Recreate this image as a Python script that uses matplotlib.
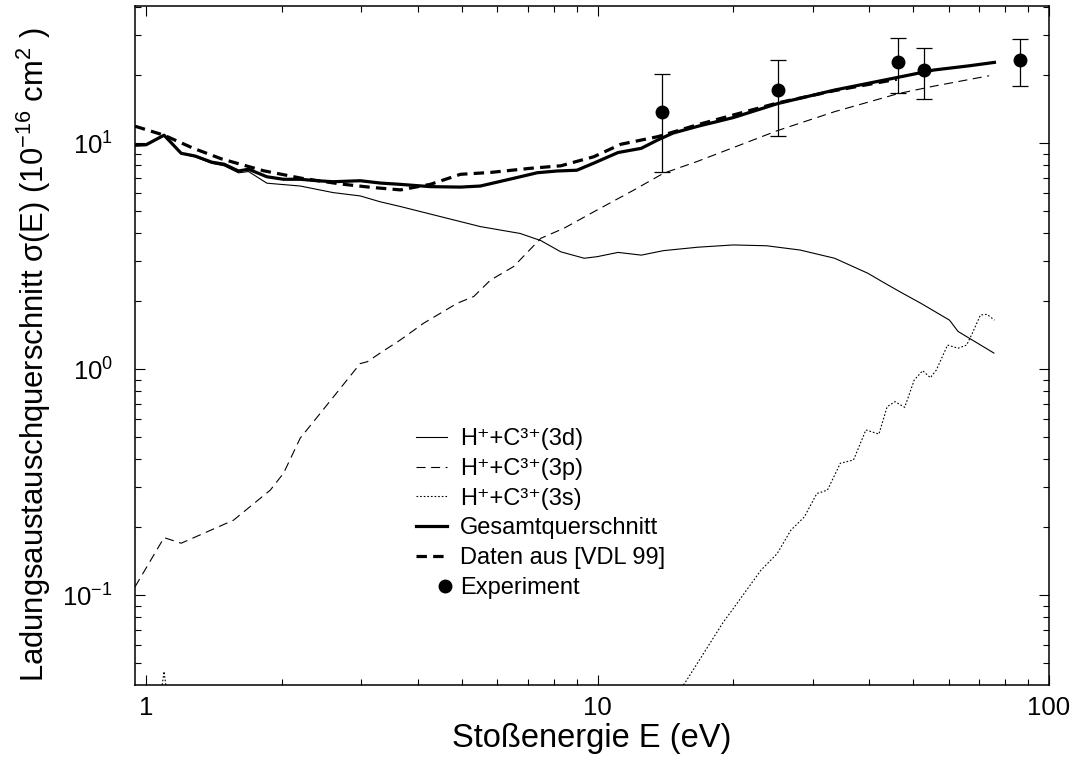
import matplotlib
matplotlib.use("Agg")
import matplotlib.pyplot as plt
from matplotlib.ticker import FixedLocator, LogLocator, FuncFormatter, NullFormatter
from matplotlib.legend_handler import HandlerLine2DCompound

plt.rcParams['font.family'] = ['Liberation Sans', 'DejaVu Sans']
plt.rcParams['mathtext.fontset'] = 'custom'
plt.rcParams['mathtext.rm'] = 'Liberation Sans'
plt.rcParams['mathtext.it'] = 'Liberation Sans:italic'
plt.rcParams['mathtext.bf'] = 'Liberation Sans:bold'
plt.rcParams['lines.scale_dashes'] = False

# H+ + C3+ charge exchange, partial cross sections (1e-16 cm^2) vs collision energy (eV)
e_3d = [0.945, 1.0, 1.096, 1.196, 1.285, 1.398, 1.489, 1.602, 1.686, 1.852, 2.195,
        2.597, 2.98, 3.30, 3.66, 4.64, 5.50, 6.74, 7.49, 8.29, 9.34, 9.98, 11.1,
        12.5, 14.0, 16.7, 20.0, 23.7, 28.1, 33.5, 39.7, 43.2, 47.0, 52.0, 60.2,
        62.9, 75.5]
sig_3d = [9.8, 9.85, 10.8, 9.0, 8.7, 8.15, 7.95, 7.4, 7.5, 6.66, 6.47,
          6.05, 5.85, 5.51, 5.25, 4.66, 4.28, 3.99, 3.71, 3.31, 3.10, 3.15, 3.29,
          3.20, 3.35, 3.47, 3.55, 3.52, 3.37, 3.10, 2.66, 2.41, 2.19, 1.96, 1.65,
          1.47, 1.18]

e_3p = [0.945, 1.096, 1.196, 1.562, 1.884, 2.016, 2.195, 2.43, 2.98, 3.09, 3.30,
        3.66, 4.12, 4.89, 5.32, 5.79, 6.52, 7.49, 8.43, 9.98, 12.05, 14.0, 16.6,
        25.1, 33.5, 46.4, 55.6, 73.7]
sig_3p = [0.109, 0.180, 0.170, 0.215, 0.292, 0.347, 0.496, 0.638, 1.06, 1.08, 1.18,
          1.35, 1.60, 1.96, 2.10, 2.48, 2.85, 3.80, 4.21, 5.07, 6.22, 7.37, 8.30,
          11.4, 13.8, 16.6, 17.9, 19.9]

e_3s = [1.05, 1.096, 1.14, 14.5, 15.6, 19.0, 20.0, 23.0, 25.0, 26.8, 28.7, 30.6,
        32.3, 34.5, 36.9, 39.3, 42.0, 43.8, 45.6, 47.9, 50.3, 52.5, 54.6, 56.3,
        59.6, 62.9, 65.7, 67.6, 70.5, 72.9, 75.7]
sig_3s = [0.025, 0.046, 0.025, 0.035, 0.0408, 0.0762, 0.0876, 0.129, 0.153, 0.194,
          0.222, 0.282, 0.292, 0.384, 0.397, 0.539, 0.517, 0.683, 0.719, 0.679,
          0.897, 0.986, 0.918, 0.993, 1.28, 1.24, 1.28, 1.44, 1.74, 1.75, 1.65]

e_total = [0.945, 1.0, 1.096, 1.196, 1.285, 1.398, 1.489, 1.602, 1.686, 1.852,
           2.016, 2.195, 2.39, 2.597, 2.98, 3.30, 3.66, 4.26, 4.97, 5.50, 6.52,
           7.36, 8.13, 9.0, 9.81, 11.1, 12.5, 13.6, 14.7, 16.7, 20.0, 25.1, 33.5,
           46.4, 55.6, 66.3, 75.7]
sig_total = [9.8, 9.85, 10.86, 9.03, 8.78, 8.25, 8.08, 7.54, 7.68, 7.11,
             6.93, 6.93, 6.83, 6.76, 6.83, 6.67, 6.58, 6.43, 6.40, 6.47, 7.0,
             7.41, 7.54, 7.6, 8.17, 9.1, 9.5, 10.35, 11.1, 11.9, 13.0, 15.0, 17.2,
             19.6, 21.1, 22.0, 22.8]

# reference data [VDL 99]
e_vdl = [0.945, 1.096, 1.273, 1.472, 1.82, 2.213, 2.69, 3.16, 3.66, 4.26, 4.97,
         5.79, 7.1, 8.29, 9.81, 11.26, 13.6, 16.7, 25.1, 33.5, 46.0]
sig_vdl = [11.9, 10.86, 9.5, 8.52, 7.56, 7.0, 6.61, 6.38, 6.22, 6.58, 7.29,
           7.43, 7.75, 7.95, 8.72, 9.9, 10.7, 12.1, 15.1, 17.1, 19.2]

# measurements with error bars
e_exp = [13.9, 25.1, 46.4, 52.8, 86.4]
sig_exp = [13.8, 17.2, 23.0, 21.0, 23.4]
err_lo = [7.44, 10.8, 16.7, 15.7, 17.9]
err_hi = [20.2, 23.4, 29.3, 26.5, 28.8]


class EndMarkerHandler(HandlerLine2DCompound):
    """Put the single legend marker near the right end of the handle."""
    def get_xdata(self, legend, xdescent, ydescent, width, height, fontsize):
        xdata, _ = super().get_xdata(legend, xdescent, ydescent, width, height, fontsize)
        return xdata, [-xdescent + width * 0.95]


fig = plt.figure(figsize=(10.75, 7.59), dpi=100)
ax = fig.add_axes([135 / 1075, 1 - 685 / 759, (1049 - 135) / 1075, (685 - 6) / 759])

thin = 0.8
ax.plot(e_3d, sig_3d, color='black', lw=thin, label='H⁺+C³⁺(3d)')
ax.plot(e_3p, sig_3p, color='black', lw=thin, dashes=(6.5, 4.0),
        label='H⁺+C³⁺(3p)')
ax.plot(e_3s, sig_3s, color='black', lw=thin, dashes=(1.2, 1.4),
        label='H⁺+C³⁺(3s)')
ax.plot(e_total, sig_total, color='black', lw=2.3, label='Gesamtquerschnitt')
ax.plot(e_vdl, sig_vdl, color='black', lw=2.3, dashes=(7.5, 4.5),
        label='Daten aus [VDL 99]')

yerr = [[s - lo for s, lo in zip(sig_exp, err_lo)],
        [hi - s for s, hi in zip(sig_exp, err_hi)]]
ax.errorbar(e_exp, sig_exp, yerr=yerr, fmt='none', ecolor='black',
            elinewidth=0.9, capsize=5.5, capthick=0.9)
exp_line, = ax.plot(e_exp, sig_exp, 'o', color='black', ms=9, label='Experiment')

ax.set_xscale('log')
ax.set_yscale('log')
ax.set_xlim(0.945, 100)
ax.set_ylim(0.0401, 40.5)

ax.xaxis.set_major_locator(FixedLocator([1, 10, 100]))
ax.xaxis.set_major_formatter(FuncFormatter(lambda v, _: f"{v:g}"))
ax.xaxis.set_minor_locator(LogLocator(base=10, subs=range(2, 10)))
ax.xaxis.set_minor_formatter(NullFormatter())
ax.yaxis.set_minor_locator(LogLocator(base=10, subs=range(2, 10)))
ax.yaxis.set_minor_formatter(NullFormatter())

ax.tick_params(which='both', direction='in', top=True, right=True, width=0.8)
ax.tick_params(which='major', length=7.5, labelsize=18.5, pad=8)
ax.tick_params(which='minor', length=4.5)
ax.tick_params(axis='y', which='major', pad=16)
for sp in ax.spines.values():
    sp.set_linewidth(1.1)

ax.set_xlabel('Stoßenergie E (eV)', fontsize=23.5)
ax.set_ylabel(r'Ladungsaustauschquerschnitt σ(E) (10$^{-16}$ cm$^{2}$ )', fontsize=22.3)
ax.xaxis.set_label_coords(0.5, -0.056)
ax.yaxis.set_label_coords(-0.09, 0.486)

ax.legend(loc='upper left', bbox_to_anchor=(416 / 1075, 1 - 428 / 759),
          bbox_transform=fig.transFigure, frameon=False, fontsize=17,
          handlelength=1.3, handletextpad=0.55, labelspacing=0.33,
          borderpad=0, borderaxespad=0,
          handler_map={exp_line: EndMarkerHandler(numpoints=1)})

fig.savefig('out.png', dpi=100)
